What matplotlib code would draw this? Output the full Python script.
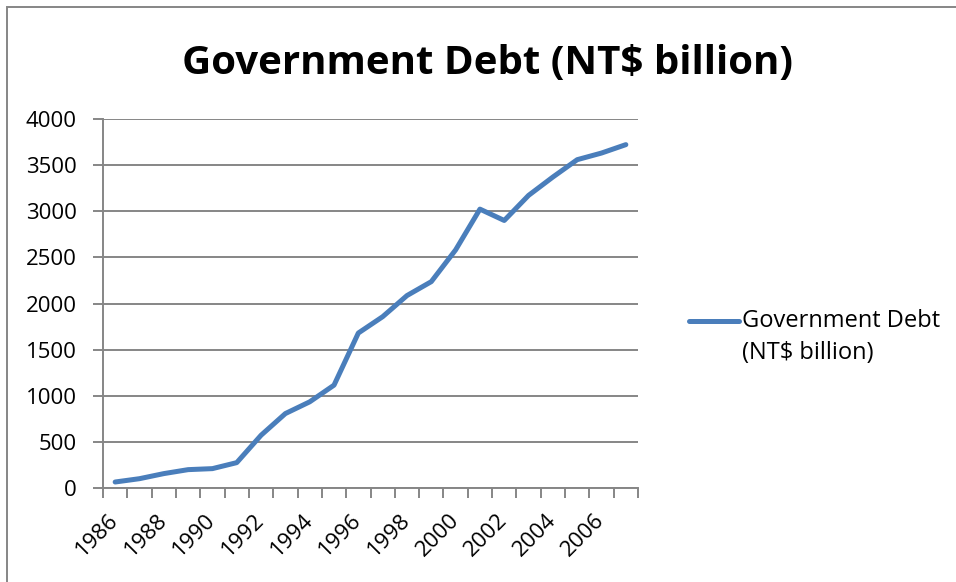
import numpy as np
import matplotlib
matplotlib.use('Agg')
import matplotlib.pyplot as plt
from matplotlib.lines import Line2D
from matplotlib.patches import Rectangle

plt.rcParams['font.family'] = ['Open Sans', 'DejaVu Sans']

years = list(range(1986, 2008))
debt = [65, 101, 156, 199, 210, 275, 572, 807, 934, 1115, 1680, 1857,
        2086, 2237, 2581, 3023, 2900, 3172, 3371, 3559, 3631, 3722]
yticks = [0, 500, 1000, 1500, 2000, 2500, 3000, 3500, 4000]
legend_lines = ['Government Debt', '(NT$ billion)']
title = 'Government Debt (NT$ billion)'

W, H = 956, 582
fig = plt.figure(figsize=(W / 100, H / 100), dpi=100)
ax = fig.add_axes([103 / W, 1 - 488 / H, (638 - 103) / W, (488 - 119) / H])

grey = '#868686'
blue = '#4A7EBB'

x = np.arange(len(years))
ax.plot(x, debt, color=blue, lw=3.6, solid_capstyle='round', solid_joinstyle='round', zorder=3)

ax.set_xlim(-0.5, len(years) - 0.5)
ax.set_ylim(0, 4000)
ax.set_yticks(yticks)
ax.yaxis.grid(True, color=grey, lw=1.4)
ax.set_axisbelow(True)

# tick marks between categories, labels every other year
ax.set_xticks(np.arange(-0.5, len(years)))
ax.set_xticklabels([])
ax.set_xticks(x[::2], minor=True)
ax.set_xticklabels([str(y) for y in years[::2]], minor=True, rotation=45,
                   ha='right', va='center', rotation_mode='anchor', fontsize=16)
ax.tick_params(axis='x', which='minor', length=0, pad=21)
ax.tick_params(axis='x', which='major', length=7, width=1.4, color=grey)
ax.tick_params(axis='y', length=7, width=1.4, color=grey, labelsize=16, pad=12)

for s in ['top', 'right']:
    ax.spines[s].set_visible(False)
for s in ['left', 'bottom']:
    ax.spines[s].set_color(grey)
    ax.spines[s].set_linewidth(1.4)

fig.text(487 / W, 1 - 63 / H, title, ha='center', va='center',
         fontsize=29, fontweight='bold')

# legend
fig.add_artist(Line2D([689 / W, 739 / W], [1 - 321 / H, 1 - 321 / H],
                      color=blue, lw=3.6, solid_capstyle='round'))
for i, line in enumerate(legend_lines):
    fig.text(742 / W, 1 - (321 + 32 * i) / H, line, ha='left', va='center', fontsize=17)

# chart border
fig.add_artist(Rectangle((7 / W, -0.1), 1.2, 1 - 7 / H + 0.1, fill=False,
                         edgecolor=grey, lw=1.4, transform=fig.transFigure))

fig.savefig('out.png', dpi=100)
